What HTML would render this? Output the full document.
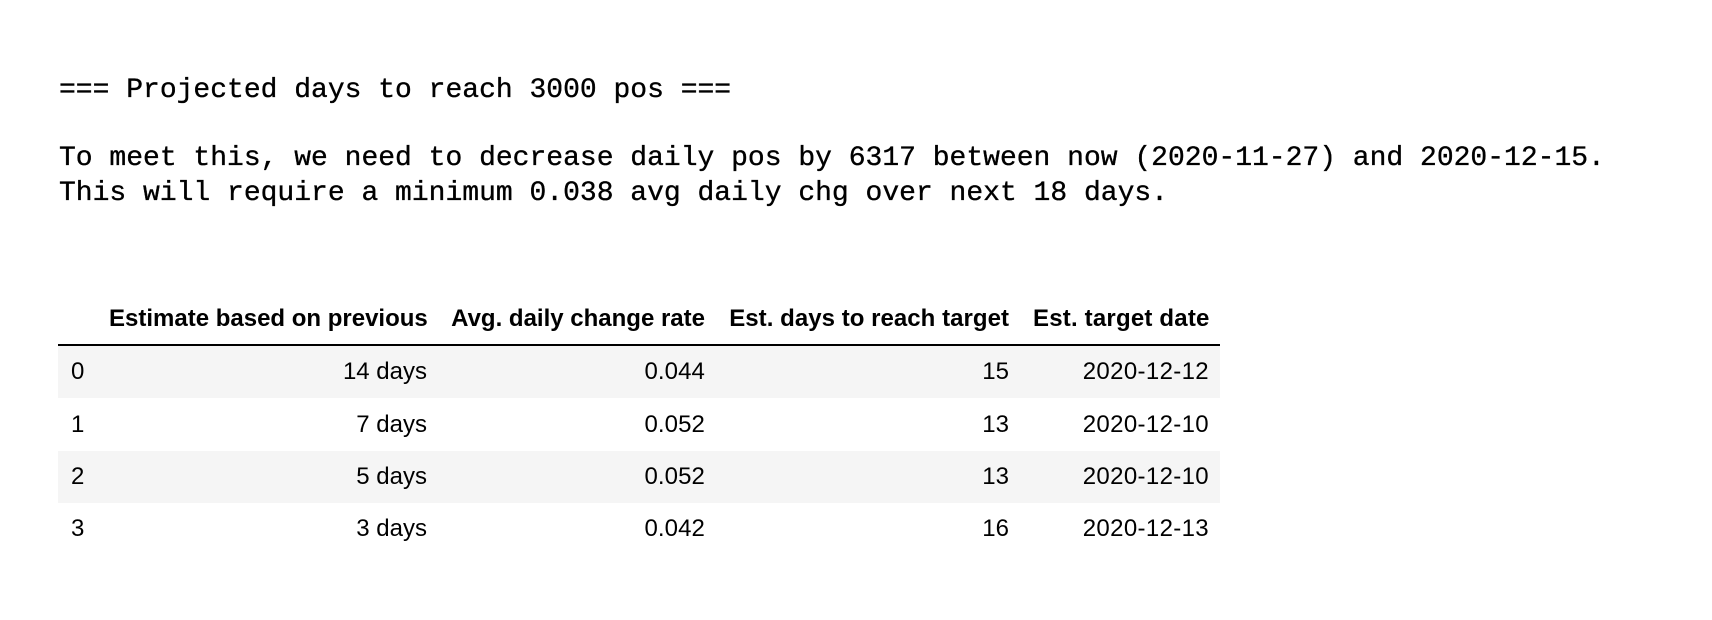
<!DOCTYPE html>
<html lang="en">
<head>
<meta charset="utf-8">
<title>Projected days to reach 3000 pos</title>
<style>
html,body{margin:0;padding:0;background:#fff;width:1712px;height:620px;overflow:hidden}
.mono{position:absolute;left:59px;margin:0;font:28px/35px "Liberation Mono",monospace;color:#000;white-space:pre;-webkit-text-stroke:0.35px #000}
table{position:absolute;left:58px;top:293px;border-collapse:collapse;table-layout:fixed;width:1162px;font:24px/36px "Liberation Sans",sans-serif;color:#000}
th{font-weight:bold;text-align:right;padding:0 12px;height:52px;box-sizing:border-box;white-space:nowrap;border-bottom:2px solid #000}
td{text-align:right;padding:0 12px;height:52px;box-sizing:border-box;white-space:nowrap}
tbody th{border:0;font-weight:normal;text-align:left;padding-left:13px}
tbody tr:nth-child(odd){background:#f5f5f5}
tbody tr:first-child th,tbody tr:first-child td{height:54px}
tbody tr:nth-child(2) th,tbody tr:nth-child(2) td{height:51px}
tbody tr.up th,tbody tr.up td{position:relative;top:-1px}
tbody tr.down th,tbody tr.down td{position:relative;top:1px}
td:nth-child(3){letter-spacing:.1px}
td:nth-child(5){letter-spacing:.35px;padding-right:11px}
thead th:nth-child(4){letter-spacing:.04px}
thead th:nth-child(5){letter-spacing:.2px;padding-right:11px}
</style>
</head>
<body>
<p class="mono" style="top:73px">=== Projected days to reach 3000 pos ===</p>
<p class="mono" style="top:141px">To meet this, we need to decrease daily pos by 6317 between now (2020-11-27) and 2020-12-15.</p>
<p class="mono" style="top:176px">This will require a minimum 0.038 avg daily chg over next 18 days.</p>
<table>
<colgroup><col style="width:39px"><col style="width:342px"><col style="width:278px"><col style="width:304px"><col style="width:199px"></colgroup>
<thead>
<tr>
<th></th>
<th>Estimate based on previous</th>
<th>Avg. daily change rate</th>
<th>Est. days to reach target</th>
<th>Est. target date</th>
</tr>
</thead>
<tbody>
<tr class="up"><th>0</th><td>14 days</td><td>0.044</td><td>15</td><td>2020-12-12</td></tr>
<tr><th>1</th><td>7 days</td><td>0.052</td><td>13</td><td>2020-12-10</td></tr>
<tr class="down"><th>2</th><td>5 days</td><td>0.052</td><td>13</td><td>2020-12-10</td></tr>
<tr class="down"><th>3</th><td>3 days</td><td>0.042</td><td>16</td><td>2020-12-13</td></tr>
</tbody>
</table>
</body>
</html>
